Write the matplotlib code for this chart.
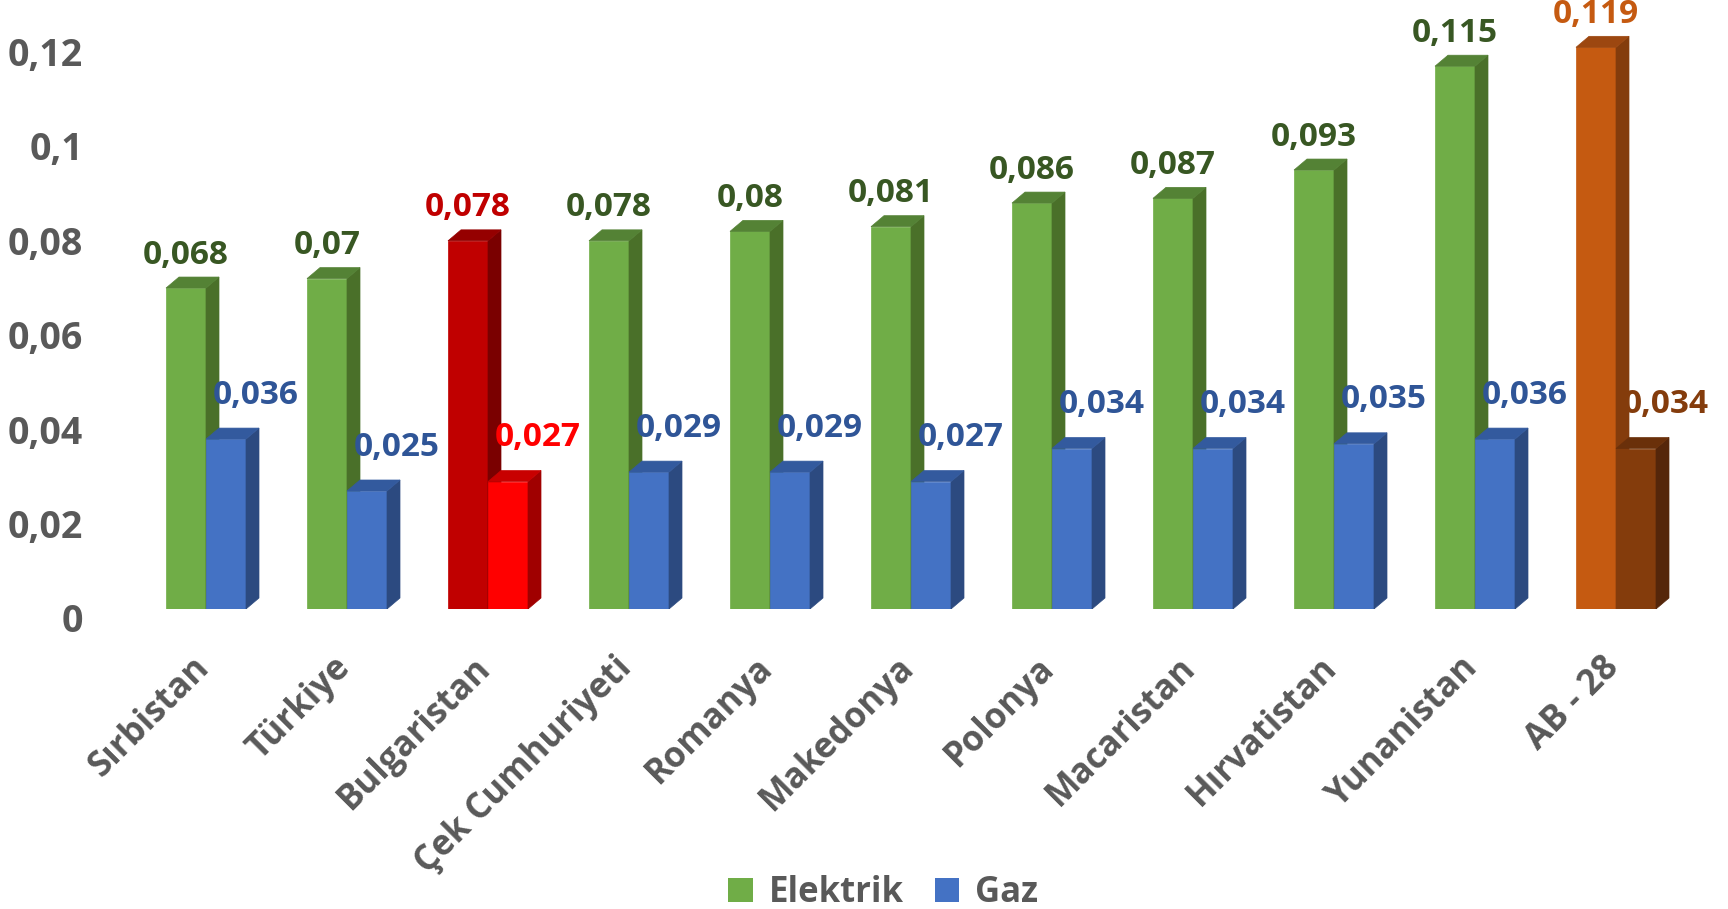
import numpy as np
import matplotlib.pyplot as plt
from matplotlib.patches import Polygon, Patch
from matplotlib.transforms import ScaledTranslation

# veriler
ulkeler = ['Sırbistan', 'Türkiye', 'Bulgaristan', 'Çek Cumhuriyeti', 'Romanya',
           'Makedonya', 'Polonya', 'Macaristan', 'Hırvatistan', 'Yunanistan', 'AB - 28']
elektrik = [0.068, 0.07, 0.078, 0.078, 0.08, 0.081, 0.086, 0.087, 0.093, 0.115, 0.119]
gaz = [0.036, 0.025, 0.027, 0.029, 0.029, 0.027, 0.034, 0.034, 0.035, 0.036, 0.034]
y_ticks = [0, 0.02, 0.04, 0.06, 0.08, 0.1, 0.12]

# renkler: (ön, yan, üst, etiket)
YESIL = ('#70AD47', '#4A7029', '#548235', '#385723')
MAVI = ('#4472C4', '#2C4A80', '#335A9E', '#2F5597')
ozel = {
    'Bulgaristan': (('#C00000', '#7A0000', '#950000', '#C00000'),
                    ('#FF0000', '#A00000', '#C80000', '#FF0000')),
    'AB - 28': (('#C55A11', '#843C0C', '#9C4710', '#C55A11'),
                ('#843C0C', '#55260A', '#6A300A', '#843C0C')),
}

plt.rcParams['font.family'] = ['Open Sans', 'DejaVu Sans']
GRI = '#595959'

fig = plt.figure(figsize=(17.28, 9.09), dpi=100)
W, H = 1728, 909
x_sol, x_sag = 100, 1700
y_alt, y_ust = 609, 5
ax = fig.add_axes([x_sol / W, (H - y_alt) / H, (x_sag - x_sol) / W, (y_alt - y_ust) / H])

grup = 141.0  # px
merkez0 = 206.0
xmin = -(merkez0 - x_sol) / grup
xmax = xmin + (x_sag - x_sol) / grup
ymax = 0.02 * (y_alt - y_ust) / 94.4
ax.set_xlim(xmin, xmax)
ax.set_ylim(0, ymax)

w = 40 / grup
dx = 13 / grup
dy = 11 / 94.4 * 0.02


def kutu(x0, h, renk):
    on, yan, ust = renk[:3]
    ax.add_patch(Polygon([(x0, 0), (x0 + w, 0), (x0 + w, h), (x0, h)], closed=True,
                         fc=on, ec=on, lw=0.5, zorder=2))
    ax.add_patch(Polygon([(x0 + w, 0), (x0 + w + dx, dy), (x0 + w + dx, h + dy), (x0 + w, h)],
                         closed=True, fc=yan, ec=yan, lw=0.5, zorder=2))
    ax.add_patch(Polygon([(x0, h), (x0 + dx, h + dy), (x0 + w + dx, h + dy), (x0 + w, h)],
                         closed=True, fc=ust, ec=ust, lw=0.5, zorder=2))


px = 0.02 / 94.4
for i, ad in enumerate(ulkeler):
    r_e, r_g = ozel.get(ad, (YESIL, MAVI))
    kutu(i - w, elektrik[i], r_e)
    kutu(i, gaz[i], r_g)
    ax.text(i - w / 2, elektrik[i] + 33 * px, str(elektrik[i]).replace('.', ','),
            ha='center', va='center', fontsize=24, fontweight='bold', color=r_e[3], zorder=5)
    ax.text(i + w / 2 + 30 / grup, gaz[i] + 44 * px, str(gaz[i]).replace('.', ','),
            ha='center', va='center', fontsize=24, fontweight='bold', color=r_g[3], zorder=5)
    ax.text(i - 15 / grup, -41 * px, ad, rotation=45, rotation_mode='anchor',
            ha='right', va='top', fontsize=25, fontweight='bold', color=GRI)

ax.set_yticks(y_ticks)
ax.set_yticklabels([('%g' % v).replace('.', ',') for v in y_ticks],
                   fontsize=27, fontweight='bold', color=GRI)
ax.tick_params(axis='y', length=0, pad=12)
ax.set_xticks([])
kay = ScaledTranslation(0, -9 / 100, fig.dpi_scale_trans)
for t in ax.get_yticklabels():
    t.set_transform(t.get_transform() + kay)
for s in ax.spines.values():
    s.set_visible(False)

fig.legend(handles=[Patch(fc=YESIL[0], label='Elektrik'), Patch(fc=MAVI[0], label='Gaz')],
           loc='center', bbox_to_anchor=(0.511, (H - 893) / H), ncol=2, frameon=False,
           prop={'size': 25, 'weight': 'bold'}, labelcolor=GRI, handlelength=0.7,
           handleheight=0.7, handletextpad=0.45, columnspacing=0.9)

fig.savefig('out.png', dpi=100)
